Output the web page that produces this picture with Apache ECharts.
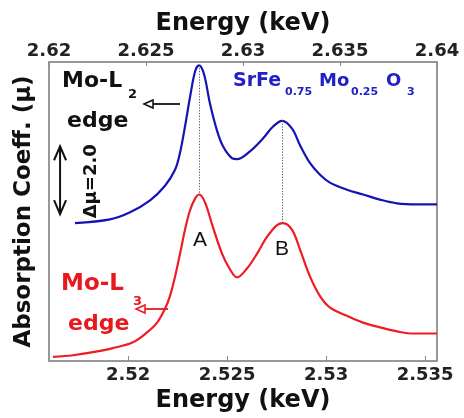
<!DOCTYPE html>
<html>
<head>
<meta charset="utf-8">
<script src="https://cdn.jsdelivr.net/npm/echarts@6/dist/echarts.min.js"></script>
<style>
  html, body { margin: 0; padding: 0; background: #fff; }
  #chart { width: 464px; height: 418px; }
</style>
</head>
<body>
<div id="chart"></div>
<script>
// Mo-L2 edge of SrFe0.75Mo0.25O3, plotted against the top energy axis (keV)
const l2Energy = [2.62134, 2.62314, 2.62418, 2.62521, 2.62598, 2.62649, 2.62675, 2.62701,
  2.62727, 2.62753, 2.62773, 2.62799, 2.6283, 2.62866, 2.62897, 2.62943, 2.62969, 2.63036,
  2.63103, 2.63155, 2.63201, 2.63253, 2.63294, 2.63345, 2.63397, 2.63448, 2.63536, 2.63619,
  2.63706, 2.63794, 2.63897, 2.64];
const l2Mu = [4.06, 4.17, 4.38, 4.73, 5.16, 5.62, 6.12, 6.90,
  7.77, 8.52, 8.70, 8.44, 7.57, 6.78, 6.32, 5.97, 5.94, 6.17,
  6.55, 6.90, 7.07, 6.84, 6.35, 5.83, 5.48, 5.25, 5.04, 4.90,
  4.75, 4.64, 4.61, 4.61];

// Mo-L3 edge, plotted against the bottom energy axis (keV)
const l3Energy = [2.5162, 2.51721, 2.51822, 2.51923, 2.52024, 2.52095, 2.52146, 2.52186,
  2.52211, 2.52237, 2.52262, 2.52287, 2.52312, 2.52338, 2.52358, 2.52388, 2.52428, 2.52474,
  2.52514, 2.5255, 2.526, 2.52651, 2.52701, 2.52752, 2.52782, 2.52828, 2.52868, 2.52918,
  2.52969, 2.5302, 2.53105, 2.53186, 2.53272, 2.53358, 2.53424, 2.5356];
const l3Mu = [0.12, 0.17, 0.26, 0.38, 0.55, 0.84, 1.13, 1.54,
  1.91, 2.49, 3.16, 3.86, 4.43, 4.78, 4.90, 4.67, 3.94, 3.16,
  2.70, 2.46, 2.72, 3.16, 3.65, 4.00, 4.06, 3.86, 3.28, 2.49,
  1.91, 1.57, 1.33, 1.13, 0.99, 0.87, 0.81, 0.81];

// Tick positions of the two energy axes
const topTicks = [2.62, 2.625, 2.63, 2.635, 2.64];
const bottomTicks = [2.52, 2.525, 2.53, 2.535];

// Scale bar for the absorption coefficient
const deltaMu = 2.0;
const scaleBarEnergy = 2.62057;   // on the top axis
const scaleBarBase = 4.32;

const BLUE_LINE = '#1414b4';
const BLUE_TEXT = '#2222c4';
const RED_LINE = '#ee1c24';
const RED_TEXT = '#e8191e';
const BOLD_FONT = 'DejaVu Sans';

function zip(xs, ys) { return xs.map((x, i) => [x, ys[i]]); }
function argmaxIn(arr, lo, hi) {
  let best = lo;
  for (let i = lo; i <= hi; i++) if (arr[i] > arr[best]) best = i;
  return best;
}

// peaks A and B of each edge
const l2A = argmaxIn(l2Mu, 0, 15);
const l2B = argmaxIn(l2Mu, 16, l2Mu.length - 1);
const l3A = argmaxIn(l3Mu, 0, 18);
const l3B = argmaxIn(l3Mu, 19, l3Mu.length - 1);

const tickLabel = {
  fontFamily: BOLD_FONT, fontWeight: 'bold', fontSize: 18, color: '#222',
  formatter: v => String(v)
};
const axisName = { fontFamily: BOLD_FONT, fontWeight: 'bold', fontSize: 24, color: '#111' };

const chart = echarts.init(document.getElementById('chart'), null, { renderer: 'canvas' });

chart.setOption({
  animation: false,
  backgroundColor: '#fff',
  grid: {
    left: 49, right: 27, top: 62, bottom: 52,
    show: true, borderColor: '#777', borderWidth: 1.5, backgroundColor: 'transparent'
  },
  xAxis: [
    {
      type: 'value', position: 'bottom', min: 2.516, max: 2.5356,
      axisLine: { show: false },
      axisTick: { show: true, inside: true, length: 5, customValues: bottomTicks, lineStyle: { color: '#888', width: 1 } },
      axisLabel: Object.assign({ margin: 5, customValues: bottomTicks }, tickLabel),
      splitLine: { show: false },
      name: 'Energy (keV)', nameLocation: 'middle', nameGap: 28, nameTextStyle: axisName
    },
    {
      type: 'value', position: 'top', min: 2.62, max: 2.64,
      axisLine: { show: false },
      axisTick: { show: true, inside: true, length: 4, customValues: topTicks, lineStyle: { color: '#888', width: 1 } },
      axisLabel: Object.assign({ margin: 2, customValues: topTicks }, tickLabel),
      splitLine: { show: false },
      name: 'Energy (keV)', nameLocation: 'middle', nameGap: 26, nameTextStyle: axisName
    }
  ],
  yAxis: {
    type: 'value', min: 0, max: 8.8,
    axisLine: { show: false }, axisTick: { show: false }, axisLabel: { show: false },
    splitLine: { show: false },
    name: 'Absorption Coeff. (μ)', nameLocation: 'middle', nameGap: 13, nameRotate: 90,
    nameTextStyle: { fontFamily: BOLD_FONT, fontWeight: 'bold', fontSize: 23, color: '#111' }
  },
  series: [
    {
      name: 'Mo-L2', type: 'line', xAxisIndex: 1, yAxisIndex: 0,
      data: zip(l2Energy, l2Mu), showSymbol: false, smooth: 0.35,
      lineStyle: { color: BLUE_LINE, width: 2.2 },
      markLine: {
        silent: true, symbol: ['none', 'none'], label: { show: false },
        lineStyle: { color: '#555', width: 1, type: [1.2, 1.6] },
        data: [
          [{ coord: [l2Energy[l2A], l2Mu[l2A]] }, { coord: [l2Energy[l2A], l3Mu[l3A]] }],
          [{ coord: [l2Energy[l2B], l2Mu[l2B]] }, { coord: [l2Energy[l2B], l3Mu[l3B]] }]
        ]
      }
    },
    {
      name: 'Mo-L3', type: 'line', xAxisIndex: 0, yAxisIndex: 0,
      data: zip(l3Energy, l3Mu), showSymbol: false, smooth: 0.35,
      lineStyle: { color: RED_LINE, width: 2.2 }
    }
  ]
});

// annotation texts and arrows
function txt(text, x, y, size, color, opts) {
  opts = opts || {};
  return {
    type: 'text', x: x, y: y, rotation: opts.rotation || 0, silent: true,
    style: {
      text: text, x: 0, y: 0, fill: color,
      font: (opts.weight || 'bold') + ' ' + size + 'px "' + (opts.family || BOLD_FONT) + '"',
      align: opts.align || 'left', verticalAlign: 'middle',
      textAlign: opts.align || 'left', textVerticalAlign: 'middle'
    }
  };
}
function leftArrow(tipX, y, tailX, color) {
  return [
    { type: 'line', silent: true, shape: { x1: tipX + 9, y1: y, x2: tailX, y2: y }, style: { stroke: color, lineWidth: 1.8 } },
    { type: 'polygon', silent: true, shape: { points: [[tipX, y], [tipX + 9, y - 4], [tipX + 9, y + 4]] },
      style: { stroke: color, fill: '#fff', lineWidth: 1.5 } }
  ];
}

const pTop = chart.convertToPixel({ xAxisIndex: 1, yAxisIndex: 0 }, [scaleBarEnergy, scaleBarBase + deltaMu]);
const pBot = chart.convertToPixel({ xAxisIndex: 1, yAxisIndex: 0 }, [scaleBarEnergy, scaleBarBase]);
const bx = pTop[0];

const graphics = [
  txt('Mo-L', 62, 81, 22, '#111'),
  txt('2', 128, 95, 13, '#111'),
  txt('edge', 67, 121.5, 22, '#111'),
  ...leftArrow(144, 104, 180, '#111'),

  txt('SrFe', 233, 81.5, 19, BLUE_TEXT),
  txt('0.75', 285, 92, 11, BLUE_TEXT),
  txt('Mo', 319, 81.5, 18, BLUE_TEXT),
  txt('0.25', 351, 92, 11, BLUE_TEXT),
  txt('O', 386, 81.5, 18, BLUE_TEXT),
  txt('3', 407, 92, 11, BLUE_TEXT),

  txt('Mo-L', 61, 284, 23, RED_TEXT),
  txt('3', 133, 302, 13, RED_TEXT),
  txt('edge', 68, 324.5, 22, RED_TEXT),
  ...leftArrow(136, 309, 168, RED_TEXT),

  txt('A', 200, 240.5, 21, '#111', { weight: 'normal', family: 'Liberation Sans', align: 'center' }),
  txt('B', 282, 249.5, 21, '#111', { weight: 'normal', family: 'Liberation Sans', align: 'center' }),

  // Δμ scale bar
  { type: 'line', silent: true, shape: { x1: bx, y1: pTop[1], x2: bx, y2: pBot[1] }, style: { stroke: '#111', lineWidth: 2 } },
  { type: 'polyline', silent: true, shape: { points: [[bx - 6, pTop[1] + 14], [bx, pTop[1]], [bx + 6, pTop[1] + 14]] },
    style: { stroke: '#111', lineWidth: 2, fill: null } },
  { type: 'polyline', silent: true, shape: { points: [[bx - 6, pBot[1] - 14], [bx, pBot[1]], [bx + 6, pBot[1] - 14]] },
    style: { stroke: '#111', lineWidth: 2, fill: null } },
  txt('Δμ=' + deltaMu.toFixed(1), 91, (pTop[1] + pBot[1]) / 2 + 1, 18, '#111', { align: 'center', rotation: Math.PI / 2 })
];

chart.setOption({ graphic: graphics });
</script>
</body>
</html>
